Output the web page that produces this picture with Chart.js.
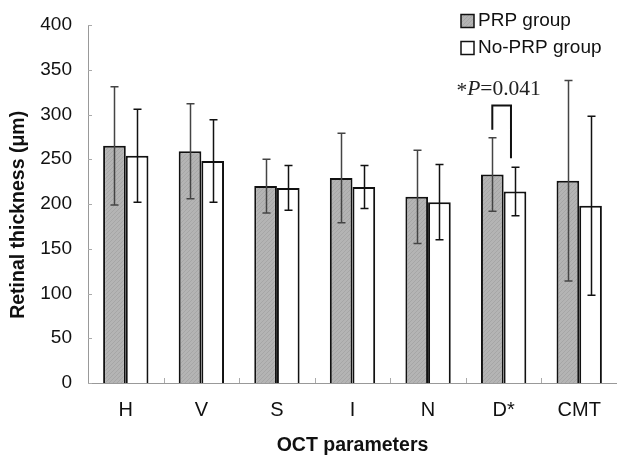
<!DOCTYPE html>
<html lang="en">
<head>
  <meta charset="UTF-8">
  <title>Retinal thickness by OCT parameter</title>
  <script src="https://cdn.jsdelivr.net/npm/chart.js"></script>
  <style>
    body { margin: 0; padding: 0; background: #fff; }
    .chart-container { position: relative; width: 617px; height: 455px; }
  </style>
</head>
<body>
  <div class="chart-container">
    <canvas id="octChart" width="617" height="455"></canvas>
  </div>
  <script>
    // data
    const categories = ['H', 'V', 'S', 'I', 'N', 'D*', 'CMT'];
    const prpMeans = [265, 259, 220, 229, 208, 233, 226];
    const prpSD = [66, 53, 30, 50, 52, 41, 112];
    const noPrpMeans = [254, 248, 218, 219, 202, 214, 198];
    const noPrpSD = [52, 46, 25, 24, 42, 27, 100];
    const yTicks = [0, 50, 100, 150, 200, 250, 300, 350, 400];

    const sansFont = '"Liberation Sans", Arial, sans-serif';
    const serifFont = '"Liberation Serif", "Times New Roman", serif';

    // grey hatched fill like the original
    function hatchPattern() {
      const c = document.createElement('canvas');
      c.width = 4; c.height = 4;
      const g = c.getContext('2d');
      g.fillStyle = '#b4b4b4';
      g.fillRect(0, 0, 4, 4);
      g.strokeStyle = '#a6a6a6';
      g.lineWidth = 1;
      g.beginPath();
      g.moveTo(0, 4); g.lineTo(4, 0);
      g.stroke();
      return g.createPattern(c, 'repeat');
    }
    const prpFill = hatchPattern();

    // error bars, inward ticks, legend and the p-value bracket
    const extras = {
      id: 'extras',
      afterDatasetsDraw(chart) {
        const ctx = chart.ctx;
        const y = chart.scales.y;
        const sds = [prpSD, noPrpSD];
        const barColors = ['#444', '#111'];
        ctx.save();
        sds.forEach((sd, di) => {
          const meta = chart.getDatasetMeta(di);
          const vals = chart.data.datasets[di].data;
          meta.data.forEach((bar, i) => {
            const x = Math.round(bar.x) + 0.5;
            const top = y.getPixelForValue(vals[i] + sd[i]);
            const bot = y.getPixelForValue(vals[i] - sd[i]);
            ctx.strokeStyle = barColors[di];
            ctx.lineWidth = 1.5;
            ctx.beginPath();
            ctx.moveTo(x, top); ctx.lineTo(x, bot);
            ctx.moveTo(x - 4, top); ctx.lineTo(x + 4, top);
            ctx.moveTo(x - 4, bot); ctx.lineTo(x + 4, bot);
            ctx.stroke();
          });
        });

        // significance bracket over D*
        const di = categories.indexOf('D*');
        const x1 = chart.getDatasetMeta(0).data[di].x;
        const x2 = chart.getDatasetMeta(1).data[di].x - 4;
        ctx.strokeStyle = '#111';
        ctx.lineWidth = 2;
        ctx.beginPath();
        ctx.moveTo(x1, y.getPixelForValue(283));
        ctx.lineTo(x1, y.getPixelForValue(310));
        ctx.lineTo(x2, y.getPixelForValue(310));
        ctx.lineTo(x2, y.getPixelForValue(251));
        ctx.stroke();

        // "*P=0.041"
        const cx = (x1 + x2) / 2 - 3;
        const by = y.getPixelForValue(322);
        const sz = '21.5px ';
        ctx.fillStyle = '#222';
        ctx.textBaseline = 'alphabetic';
        ctx.font = sz + serifFont;
        const wStar = ctx.measureText('*').width;
        ctx.font = 'italic ' + sz + serifFont;
        const wP = ctx.measureText('P').width;
        ctx.font = sz + serifFont;
        const wRest = ctx.measureText('=0.041').width;
        let tx = cx - (wStar + wP + wRest) / 2;
        ctx.textAlign = 'left';
        ctx.fillText('*', tx, by + 2);
        tx += wStar;
        ctx.font = 'italic ' + sz + serifFont;
        ctx.fillText('P', tx, by);
        tx += wP;
        ctx.font = sz + serifFont;
        ctx.fillText('=0.041', tx, by);

        // legend
        const items = chart.data.datasets;
        ctx.font = '19px ' + sansFont;
        ctx.textBaseline = 'middle';
        items.forEach((ds, k) => {
          const ly = 21 + k * 27;
          ctx.fillStyle = k === 0 ? prpFill : '#fff';
          ctx.fillRect(461, ly - 6.5, 13, 13);
          ctx.strokeStyle = '#111';
          ctx.lineWidth = 1.5;
          ctx.strokeRect(461, ly - 6.5, 13, 13);
          ctx.fillStyle = '#111';
          ctx.fillText(ds.label, 478, ly);
        });
        ctx.restore();
      },
      afterDraw(chart) {
        // small inward ticks on both axes
        const ctx = chart.ctx;
        const { x, y } = chart.scales;
        const area = chart.chartArea;
        ctx.save();
        ctx.strokeStyle = '#aaa';
        ctx.lineWidth = 1;
        ctx.beginPath();
        yTicks.forEach(v => {
          const py = Math.round(y.getPixelForValue(v)) + 0.5;
          ctx.moveTo(area.left, py); ctx.lineTo(area.left + 4, py);
        });
        for (let i = 1; i < categories.length; i++) {
          const px = Math.round(x.getPixelForValue(i - 0.5)) + 0.5;
          ctx.moveTo(px, area.bottom); ctx.lineTo(px, area.bottom - 5);
        }
        ctx.stroke();
        ctx.restore();
      }
    };

    new Chart(document.getElementById('octChart'), {
      type: 'bar',
      data: {
        labels: categories,
        datasets: [
          {
            label: 'PRP group',
            data: prpMeans,
            backgroundColor: prpFill,
            borderColor: '#111',
            borderWidth: 2,
            borderSkipped: 'bottom'
          },
          {
            label: 'No-PRP group',
            data: noPrpMeans,
            backgroundColor: '#fff',
            borderColor: '#111',
            borderWidth: 2,
            borderSkipped: 'bottom'
          }
        ]
      },
      options: {
        responsive: false,
        animation: false,
        devicePixelRatio: 1,
        layout: { padding: { left: 3, right: 0, top: 25, bottom: 0 } },
        plugins: {
          legend: { display: false },
          tooltip: { enabled: false }
        },
        datasets: {
          bar: { categoryPercentage: 0.6, barPercentage: 1.0 }
        },
        scales: {
          x: {
            grid: { display: false },
            border: { color: '#999', width: 1 },
            ticks: { color: '#111', font: { family: sansFont, size: 20 }, padding: 7, autoSkip: false, maxRotation: 0 },
            title: {
              display: true, text: 'OCT parameters', color: '#111',
              font: { family: sansFont, size: 19.5, weight: 'bold', lineHeight: 1 }, padding: { top: 4, bottom: 0 }
            },
            afterFit(scale) { scale.height = 72; }
          },
          y: {
            min: 0, max: 400,
            grid: { display: false },
            border: { color: '#999', width: 1 },
            afterBuildTicks(scale) { scale.ticks = yTicks.map(v => ({ value: v })); },
            ticks: { color: '#111', font: { family: sansFont, size: 19 }, padding: 8 },
            title: {
              // trailing spaces nudge the rotated title down to where the original sits
              display: true, text: 'Retinal thickness (μm)    ', color: '#111',
              font: { family: sansFont, size: 19.5, weight: 'bold' }, padding: { top: 4, bottom: 4 }
            },
            afterFit(scale) { scale.width = 85; }
          }
        }
      },
      plugins: [extras]
    });
  </script>
</body>
</html>
